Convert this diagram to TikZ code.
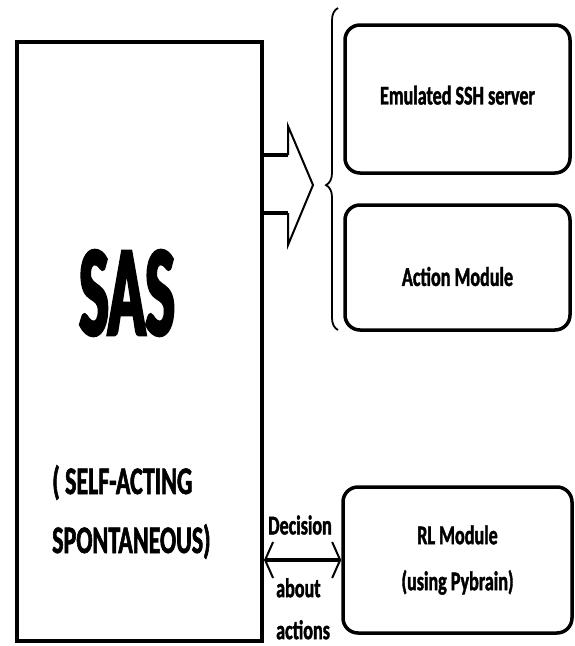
\documentclass[tikz,border=0pt]{standalone}
\usepackage{fontspec}
\setmainfont{Carlito}[FakeStretch=0.67, FakeBold=1.5]
\newfontfamily\bigsans{Carlito}[FakeStretch=0.48, FakeBold=2.5]
\newfontfamily\notesans{Carlito}[FakeStretch=0.615, FakeBold=1.5]
\usetikzlibrary{arrows.meta, positioning, decorations.pathreplacing}

\tikzset{
  module/.style={draw, line width=3.5pt, rounded corners=15pt, minimum width=225pt,
    align=center, font=\bfseries\fontsize{27}{46}\selectfont},
  linktext/.style={inner sep=0pt, align=left, font=\bfseries\fontsize{27}{42}\selectfont},
}

\begin{document}
\begin{tikzpicture}[x=1pt,y=-1pt]
    \useasboundingbox (0,0) rectangle (574,646);
    % main block on the left
    \node[draw, line width=4pt, minimum width=245pt, minimum height=599pt] (sas) at (139.5,341) {};
    \node[font=\bigsans\bfseries\fontsize{129}{129}\selectfont, inner sep=0pt] (sastitle) at (127,293) {SAS};
    \node[inner sep=0pt, anchor=west, align=left, font=\notesans\bfseries\fontsize{39}{59}\selectfont] (sasnote) at (52,512) {( SELF-ACTING\\SPONTANEOUS)};

    % modules on the right
    \node[module, minimum height=148pt, text depth=8pt] (ssh) at (457.5,99) {Emulated SSH server};
    \node[module, minimum height=125pt, text height=37pt] (action) at (457.5,267.5) {Action Module};
    \node[module, minimum width=229pt, minimum height=146pt] (rl) at (457.5,560) {RL Module\\(using Pybrain)};

    % hollow arrow into the brace
    \draw[line width=4pt] (sas.east |- 0,155) -- (288,155) (sas.east |- 0,213) -- (288,213);
    \draw[line width=2pt, line join=miter] (288,155) -- (288,126) -- (313,185) -- (288,245) -- (288,213);
    \draw[decorate, decoration={brace, amplitude=12pt, aspect=0.45}, line width=1.8pt] (338,330) -- (338,8);

    % link to the RL module
    \draw[<->, >={Straight Barb[length=8pt, width=36pt, line width=2pt]}, line width=4pt] (sas.east |- rl.west) -- (rl.west);
    \node[linktext, anchor=west] (decision) at (268,525) {Decision};
    \node[linktext, anchor=north west] (about) at (276,578) {about\\actions};
\end{tikzpicture}
\end{document}
